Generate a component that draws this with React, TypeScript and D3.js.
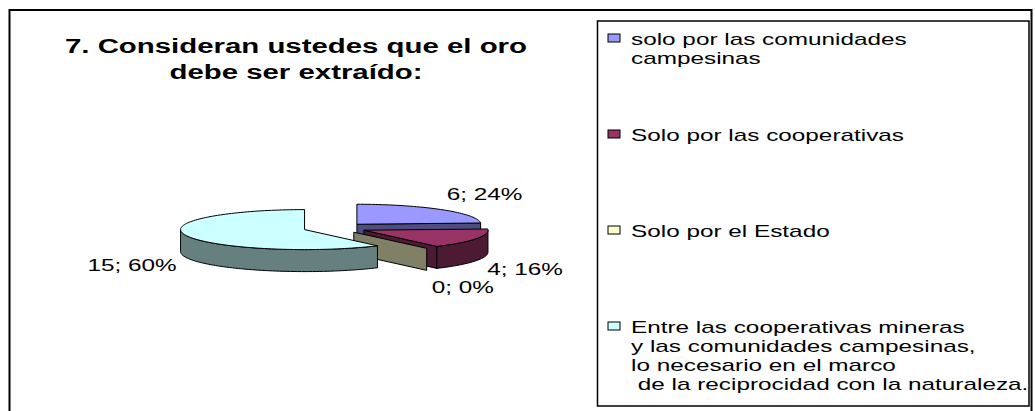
import * as d3 from "d3";

// question 7 survey answers
const titleLines = ["7. Consideran ustedes que el oro", "debe ser extraído:"];
const categories = [
  "solo por las comunidades campesinas",
  "Solo por las cooperativas",
  "Solo por el Estado",
  "Entre las cooperativas mineras y las comunidades campesinas, lo necesario en el marco de la reciprocidad con la naturaleza.",
];
const legendLines = [
  ["solo por las comunidades", "campesinas"],
  ["Solo por las cooperativas"],
  ["Solo por el Estado"],
  [
    "Entre las cooperativas mineras",
    "y las comunidades campesinas,",
    "lo necesario en el marco",
    " de la reciprocidad con la naturaleza.",
  ],
];
const counts = [6, 4, 0, 15];
const topColors = ["#9999ff", "#993366", "#ffffcc", "#ccffff"];

const W = 1035;
const H = 411;
const FONT = "'Liberation Sans', Arial, sans-serif";
const STRETCH = 1.52; // the original picture is stretched sideways

// 3d pie geometry
const cx = 335;
const cy = 228;
const rx = 124;
const ry = 20;
const depth = 22;
const explode = 32;

// label placement relative to the slice rim at its mid angle
const labelNudge = [
  { dx: 5, dy: -10, bottom: false, anchor: "start" },
  { dx: 11, dy: 14, bottom: true, anchor: "start" },
  { dx: 5, dy: 23, bottom: true, anchor: "start" },
  { dx: -10, dy: 13, bottom: true, anchor: "end" },
];

function darker(c: string) {
  const r = d3.rgb(c);
  return d3.rgb(r.r * 0.5, r.g * 0.5, r.b * 0.5).formatHex();
}

function proj(ox: number, oy: number, a: number, r: number, dz: number) {
  return [ox + rx * r * Math.sin(a), oy - ry * r * Math.cos(a) + dz] as [number, number];
}

function arcPts(ox: number, oy: number, a0: number, a1: number, dz: number) {
  const n = Math.max(2, Math.ceil(Math.abs(a1 - a0) / 0.03));
  return d3.range(n + 1).map((i) => proj(ox, oy, a0 + ((a1 - a0) * i) / n, 1, dz));
}

const line = d3.line().curve(d3.curveLinearClosed);

export default function App() {
  const total = d3.sum(counts);
  const arcs = d3.pie<number>().sort(null).startAngle(0).endAngle(2 * Math.PI)(counts);

  const slices = arcs.map((d, i) => {
    const mid = (d.startAngle + d.endAngle) / 2;
    const ox = cx + explode * Math.sin(mid);
    const oy = cy - explode * (ry / rx) * Math.cos(mid);
    const a0 = d.startAngle;
    const a1 = d.endAngle;
    const side = darker(topColors[i]);
    const faces: { d: string; fill: string }[] = [];

    // radial face at start angle
    if (Math.sin(a0) < -1e-6) {
      const p = proj(ox, oy, a0, 1, 0);
      faces.push({
        d: line([[ox, oy], p, [p[0], p[1] + depth], [ox, oy + depth]]) as string,
        fill: side,
      });
    }
    // radial face at end angle
    if (Math.sin(a1) > 1e-6) {
      const p = proj(ox, oy, a1, 1, 0);
      faces.push({
        d: line([[ox, oy], p, [p[0], p[1] + depth], [ox, oy + depth]]) as string,
        fill: side,
      });
    }
    // outer curved face, front half only
    const s = Math.max(a0, Math.PI / 2);
    const e = Math.min(a1, (3 * Math.PI) / 2);
    if (e > s) {
      const pts = arcPts(ox, oy, s, e, 0).concat(arcPts(ox, oy, e, s, depth));
      faces.push({ d: line(pts) as string, fill: side });
    }
    // top face
    let top: string | null = null;
    if (a1 - a0 > 1e-6) {
      top = line([[ox, oy] as [number, number]].concat(arcPts(ox, oy, a0, a1, 0))) as string;
    }

    const nudge = labelNudge[i];
    const rim = proj(ox, oy, mid, 1, nudge.bottom ? depth : 0);
    const pct = Math.round((d.data / total) * 100);
    return {
      key: categories[i],
      faces,
      top,
      color: topColors[i],
      label: `${d.data}; ${pct}%`,
      lx: rim[0] + nudge.dx,
      ly: rim[1] + nudge.dy,
      anchor: nudge.anchor,
    };
  });

  const legendX = 608;
  const legendFirst = 45;
  const legendStep = 96;
  const lineH = 19;

  return (
    <svg
      width={W}
      height={H}
      style={{ position: "absolute", left: 0, top: 0, background: "#fff" }}
    >
      <rect x={9.5} y={10} width={1022} height={430} fill="#fff" stroke="#000" strokeWidth={2} />

      {titleLines.map((t, i) => (
        <text
          key={t}
          transform={`translate(296,${53 + i * 26}) scale(1.47,1)`}
          textAnchor="middle"
          fontFamily={FONT}
          fontWeight="bold"
          fontSize={20}
          fill="#000"
        >
          {t}
        </text>
      ))}

      <g stroke="#000" strokeWidth={1} strokeLinejoin="round">
        {slices.map((s) => (
          <g key={s.key}>
            {s.faces.map((f, j) => (
              <path key={j} d={f.d} fill={f.fill} />
            ))}
            {s.top && <path d={s.top} fill={s.color} />}
          </g>
        ))}
      </g>

      {slices.map((s) => (
        <text
          key={s.key + "-lbl"}
          transform={`translate(${s.lx},${s.ly}) scale(${STRETCH},1)`}
          textAnchor={s.anchor}
          fontFamily={FONT}
          fontSize={16}
          fill="#000"
        >
          {s.label}
        </text>
      ))}

      <rect x={597.5} y={21} width={431.5} height={385} fill="#fff" stroke="#000" strokeWidth={1.5} />
      {legendLines.map((lines, i) => {
        const y0 = legendFirst + i * legendStep;
        return (
          <g key={categories[i]}>
            <rect x={legendX} y={y0 - 11} width={12} height={8} fill={topColors[i]} stroke="#000" strokeWidth={1} />
            {lines.map((t, k) => (
              <text
                key={k}
                transform={`translate(631,${y0 + k * lineH}) scale(${STRETCH},1)`}
                fontFamily={FONT}
                fontSize={16}
                fill="#000"
                style={{ whiteSpace: "pre" }}
              >
                {t}
              </text>
            ))}
          </g>
        );
      })}
    </svg>
  );
}
